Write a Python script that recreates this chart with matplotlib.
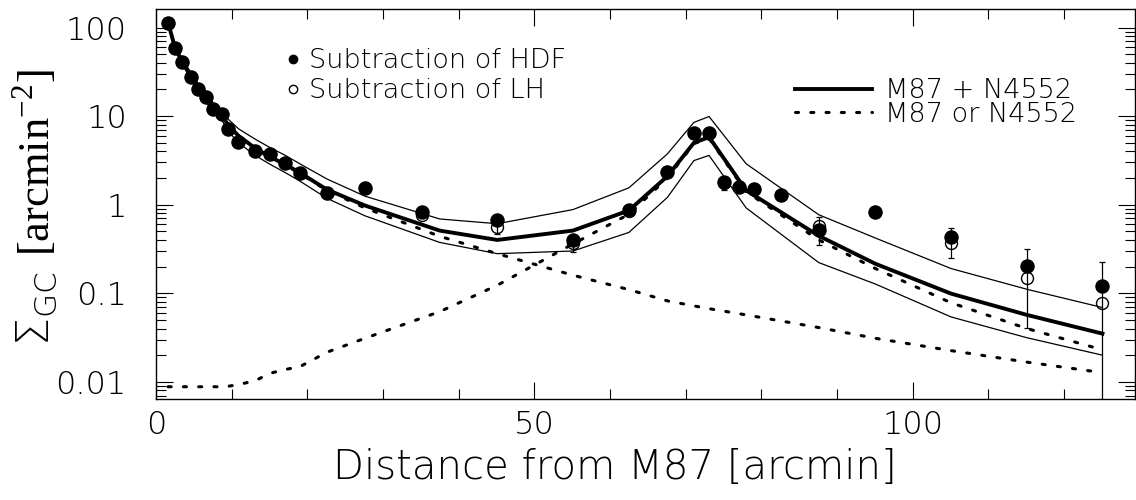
import matplotlib
matplotlib.use("Agg")
import matplotlib.pyplot as plt
from matplotlib.lines import Line2D
from matplotlib.ticker import MultipleLocator

plt.rcParams['font.family'] = ['DejaVu Sans']
plt.rcParams['font.weight'] = 200
plt.rcParams['axes.labelweight'] = 200
plt.rcParams['mathtext.fontset'] = 'custom'
plt.rcParams['mathtext.rm'] = 'Liberation Serif'
plt.rcParams['mathtext.sf'] = 'DejaVu Sans:weight=200'

# GC surface density, background subtracted two ways
dist = [1.6, 2.5, 3.5, 4.6, 5.6, 6.6, 7.6, 8.7, 9.5, 10.9, 13.1, 15.1, 17.1, 19.0,
        22.6, 27.6, 35.1, 45.1, 55.1, 62.5, 67.6, 71.1, 73.1, 75.1, 77.0, 79.1,
        82.6, 87.6, 95.1, 105.1, 115.1, 125.1]
hdf = [113, 59, 40.5, 28, 20.2, 16.4, 11.9, 10.6, 7.2, 5.1, 4.05, 3.7, 2.95, 2.3,
       1.34, 1.55, 0.82, 0.67, 0.40, 0.88, 2.37, 6.5, 6.5, 1.79, 1.6, 1.5,
       1.29, 0.52, 0.82, 0.43, 0.204, 0.121]
lh = [113, 59, 40.5, 28, 20.2, 16.4, 11.9, 10.6, 7.2, 5.1, 4.05, 3.7, 2.95, 2.3,
      1.34, 1.55, 0.77, 0.56, 0.365, 0.85, 2.37, 6.5, 6.5, 1.75, 1.6, 1.5,
      1.29, 0.57, 0.82, 0.37, 0.148, 0.077]

# error bars (lower / upper bounds)
err_dist = [35.1, 45.1, 55.1, 62.5, 75.1, 77.0, 79.1, 87.6, 105.1, 115.1, 125.1]
err_lo = [0.74, 0.47, 0.29, 0.78, 1.45, 1.4, 1.3, 0.35, 0.253, 0.041, 0.001]
err_hi = [0.88, 0.70, 0.43, 0.95, 1.9, 1.7, 1.6, 0.72, 0.545, 0.315, 0.226]

# model profiles
model_dist = [1.6, 2.5, 3.5, 4.6, 5.6, 6.6, 7.6, 8.7, 9.5, 10.9, 13.1, 15.1, 17.1,
              19.0, 22.6, 27.6, 37.5, 45.1, 55.1, 62.5, 67.6, 71.1, 73.1, 78.0,
              87.6, 95.1, 105.1, 115.1, 125.1]
model_total = [113, 60, 41, 29, 21, 16.5, 12.6, 10.3, 8.0, 6.0, 4.35, 3.45, 2.85,
               2.3, 1.48, 0.98, 0.51, 0.40, 0.51, 0.86, 2.1, 5.0, 5.8, 1.45,
               0.445, 0.215, 0.099, 0.057, 0.035]
model_upper = [115, 62, 43, 31, 23, 18, 14, 11.5, 9.3, 7.2, 5.5, 4.4, 3.6,
               2.9, 1.95, 1.25, 0.69, 0.61, 0.88, 1.55, 3.75, 8.5, 9.9, 2.9,
               0.77, 0.42, 0.19, 0.111, 0.069]
model_lower = [110, 56, 38, 26, 18.5, 14.5, 11, 9, 6.8, 5.0, 3.6, 2.85, 2.3,
               1.85, 1.18, 0.75, 0.375, 0.28, 0.30, 0.486, 1.21, 3.15, 3.6, 0.92,
               0.222, 0.127, 0.054, 0.0315, 0.020]
model_m87 = [112, 59, 40, 28, 20.5, 16, 12.2, 10, 7.8, 5.9, 4.3, 3.4, 2.8,
             2.25, 1.45, 0.92, 0.44, 0.28, 0.16, 0.11, 0.082, 0.072, 0.067, 0.057,
             0.041, 0.031, 0.0225, 0.0167, 0.0127]
model_n4552 = [0.0088, 0.0088, 0.0088, 0.0088, 0.0088, 0.0088, 0.0088, 0.0088,
               0.0089, 0.0093, 0.0103, 0.0125, 0.0138, 0.0148, 0.0216, 0.031,
               0.062, 0.123, 0.36, 0.78, 2.0, 4.9, 5.6, 1.4, 0.40, 0.19, 0.078,
               0.040, 0.023]

ytick_vals = [0.01, 0.1, 1, 10, 100]
ytick_labels = ['0.01', '0.1', '1', '10', '100']

fig = plt.figure(figsize=(11.36, 5.0), dpi=100)
ax = fig.add_axes([156 / 1136, 101 / 500, 979 / 1136, 390 / 500])

dot = (0, (1, 4))
ax.plot(model_dist, model_upper, color='k', lw=0.9)
ax.plot(model_dist, model_lower, color='k', lw=0.9)
ax.plot(model_dist, model_m87, color='k', lw=2.2, ls=dot, dash_capstyle='round')
ax.plot(model_dist, model_n4552, color='k', lw=2.2, ls=dot, dash_capstyle='round')
ax.plot(model_dist, model_total, color='k', lw=2.8)

ax.vlines(err_dist, err_lo, err_hi, colors='k', lw=0.9)
ax.plot(err_dist, err_hi, ls='none', marker='_', ms=4, mew=0.9, color='k')
ax.plot(err_dist, err_lo, ls='none', marker='_', ms=4, mew=0.9, color='k')

ax.plot(dist, hdf, ls='none', marker='o', ms=9.4, color='k')
ax.plot(dist, lh, ls='none', marker='o', ms=8.6, mfc='none', mec='k', mew=1.0)

ax.set_yscale('log')
ax.set_xlim(0, 129.4)
ax.set_ylim(0.0064, 162)
ax.set_yticks(ytick_vals, labels=ytick_labels)
ax.xaxis.set_major_locator(MultipleLocator(50))
ax.xaxis.set_minor_locator(MultipleLocator(10))

ax.tick_params(which='both', direction='in', top=True, right=True, width=0.8)
ax.tick_params(which='major', length=12, labelsize=23)
ax.tick_params(which='minor', length=7)
ax.tick_params(axis='y', which='major', pad=21)
ax.tick_params(axis='x', which='major', pad=8)
for s in ax.spines.values():
    s.set_linewidth(1.0)

ax.set_xlabel('Distance from M87 [arcmin]', fontsize=29)
ax.xaxis.set_label_coords(0.469, -0.125)
ax.set_ylabel(r'$\mathsf{\Sigma_{GC}}\ [\mathrm{arcmin}^{-2}]$', fontsize=32)
ax.yaxis.set_label_coords(-0.098, 0.49)

pts = [Line2D([], [], ls='none', marker='o', ms=6, color='k'),
       Line2D([], [], ls='none', marker='o', ms=6, mfc='none', mec='k', mew=1.0)]
leg1 = ax.legend(pts, ['Subtraction of HDF', 'Subtraction of LH'],
                 loc='upper left', bbox_to_anchor=(0.134, 0.899), frameon=False,
                 fontsize=19.5, handlelength=0.45, handletextpad=0.34,
                 labelspacing=0.17, borderpad=0, borderaxespad=0)
ax.add_artist(leg1)

lines = [Line2D([], [], color='k', lw=2.8),
         Line2D([], [], color='k', lw=2.2, ls=dot, dash_capstyle='round')]
ax.legend(lines, ['M87 + N4552', 'M87 or N4552'],
          loc='upper left', bbox_to_anchor=(0.6527, 0.823), frameon=False,
          fontsize=19.5, handlelength=2.85, handletextpad=0.46,
          labelspacing=-0.05, borderpad=0, borderaxespad=0)

fig.savefig('out.png', dpi=100)
